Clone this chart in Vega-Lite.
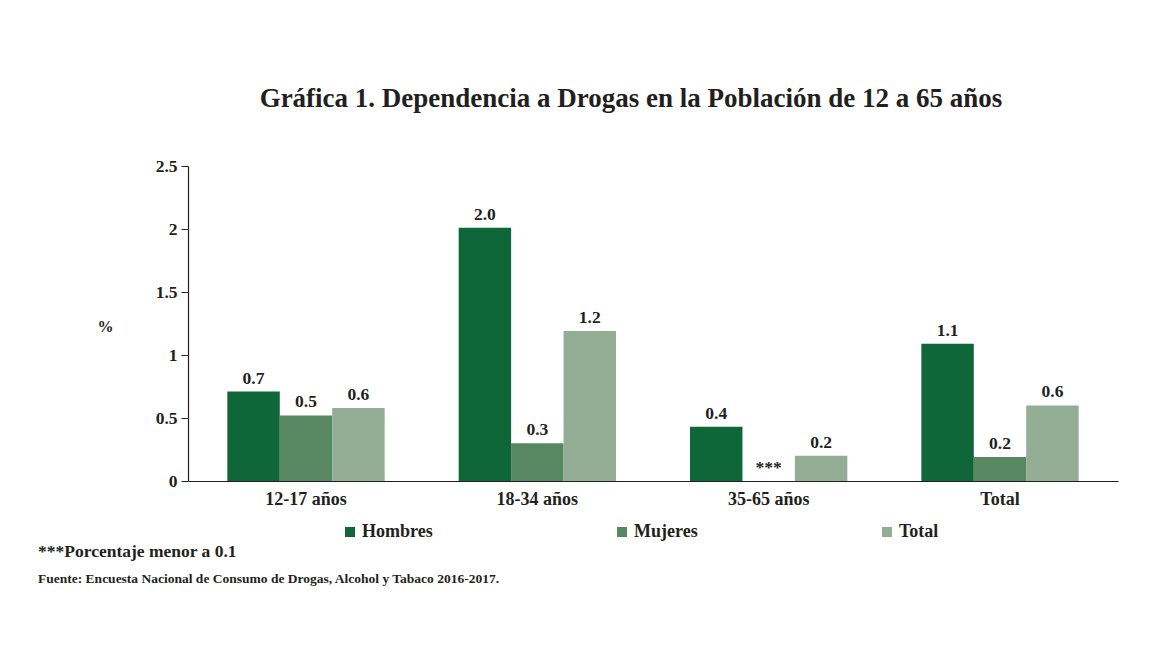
{
  "$schema": "https://vega.github.io/schema/vega-lite/v6.json",
  "background": "white",
  "padding": {"left": 38, "top": 85, "right": 10, "bottom": 10},
  "config": {
    "view": {"stroke": null},
    "font": "Liberation Serif",
    "text": {"font": "Liberation Serif"}
  },
  "title": {
    "text": "***Porcentaje menor a 0.1",
    "subtitle": "\u2002\u2002\u2002Fuente: Encuesta Nacional de Consumo de Drogas, Alcohol y Tabaco 2016-2017.",
    "orient": "bottom",
    "anchor": "start",
    "frame": "bounds",
    "dx": -59,
    "offset": 2,
    "font": "Liberation Serif",
    "fontSize": 17.5,
    "fontWeight": "bold",
    "color": "#231f20",
    "subtitleFont": "Liberation Serif",
    "subtitleFontSize": 13.5,
    "subtitleFontWeight": "bold",
    "subtitleColor": "#231f20",
    "subtitlePadding": 11
  },
  "vconcat": [
    {
      "width": 930,
      "height": 315,
      "title": {
        "text": "Gráfica 1. Dependencia a Drogas en la Población de 12 a 65 años",
        "anchor": "middle",
        "frame": "group",
        "dx": -22,
        "offset": 44,
        "font": "Liberation Serif",
        "fontSize": 27,
        "fontWeight": "bold",
        "color": "#231f20"
      },
      "data": {
        "values": [
          {"grupo": "12-17 años", "sexo": "Hombres", "valor": 0.71, "etiqueta": "0.7"},
          {"grupo": "12-17 años", "sexo": "Mujeres", "valor": 0.52, "etiqueta": "0.5"},
          {"grupo": "12-17 años", "sexo": "Total", "valor": 0.58, "etiqueta": "0.6"},
          {"grupo": "18-34 años", "sexo": "Hombres", "valor": 2.01, "etiqueta": "2.0"},
          {"grupo": "18-34 años", "sexo": "Mujeres", "valor": 0.30, "etiqueta": "0.3"},
          {"grupo": "18-34 años", "sexo": "Total", "valor": 1.19, "etiqueta": "1.2"},
          {"grupo": "35-65 años", "sexo": "Hombres", "valor": 0.43, "etiqueta": "0.4"},
          {"grupo": "35-65 años", "sexo": "Mujeres", "valor": 0, "etiqueta": "***"},
          {"grupo": "35-65 años", "sexo": "Total", "valor": 0.20, "etiqueta": "0.2"},
          {"grupo": "Total", "sexo": "Hombres", "valor": 1.09, "etiqueta": "1.1"},
          {"grupo": "Total", "sexo": "Mujeres", "valor": 0.19, "etiqueta": "0.2"},
          {"grupo": "Total", "sexo": "Total", "valor": 0.60, "etiqueta": "0.6"}
        ]
      },
      "encoding": {
        "x": {
          "field": "grupo",
          "type": "nominal",
          "sort": ["12-17 años", "18-34 años", "35-65 años", "Total"],
          "scale": {"paddingInner": 0.32, "paddingOuter": 0.17},
          "axis": {
            "title": null,
            "labelAngle": 0,
            "labelFont": "Liberation Serif",
            "labelFontSize": 18,
            "labelFontWeight": "bold",
            "labelColor": "#231f20",
            "labelPadding": 9,
            "ticks": false,
            "domainColor": "#231f20",
            "domainWidth": 1.2
          }
        },
        "xOffset": {
          "field": "sexo",
          "type": "nominal",
          "sort": ["Hombres", "Mujeres", "Total"],
          "scale": {"paddingInner": 0, "paddingOuter": 0}
        },
        "y": {
          "field": "valor",
          "type": "quantitative",
          "scale": {"domain": [0, 2.5], "nice": false},
          "axis": {
            "title": "%",
            "titleAngle": 0,
            "titleX": -83,
            "titleY": 160,
            "titleAlign": "center",
            "titleBaseline": "middle",
            "titleFont": "Liberation Serif",
            "titleFontSize": 16,
            "titleFontWeight": "bold",
            "titleColor": "#231f20",
            "values": [0, 0.5, 1, 1.5, 2, 2.5],
            "format": "~g",
            "grid": false,
            "tickSize": 7,
            "tickColor": "#231f20",
            "domainColor": "#231f20",
            "domainWidth": 1.2,
            "labelFont": "Liberation Serif",
            "labelFontSize": 17.5,
            "labelFontWeight": "bold",
            "labelColor": "#231f20",
            "labelPadding": 4
          }
        }
      },
      "layer": [
        {
          "mark": {"type": "bar"},
          "encoding": {
            "color": {
              "field": "sexo",
              "type": "nominal",
              "sort": ["Hombres", "Mujeres", "Total"],
              "scale": {"domain": ["Hombres", "Mujeres", "Total"], "range": ["#0f6638", "#578862", "#94ad95"]},
              "legend": {
                "title": null,
                "orient": "none",
                "direction": "horizontal",
                "legendX": 153,
                "legendY": 357,
                "symbolType": "square",
                "symbolSize": 100,
                "symbolStrokeWidth": 0,
                "labelFont": "Liberation Serif",
                "labelFontSize": 18,
                "labelFontWeight": "bold",
                "labelColor": "#231f20",
                "labelOffset": 3,
                "columnPadding": 180
              }
            }
          }
        },
        {
          "mark": {"type": "text", "baseline": "bottom", "dy": -4, "fontSize": 17.5, "fontWeight": "bold", "color": "#231f20"},
          "encoding": {
            "text": {"field": "etiqueta", "type": "nominal"}
          }
        }
      ]
    }
  ]
}
